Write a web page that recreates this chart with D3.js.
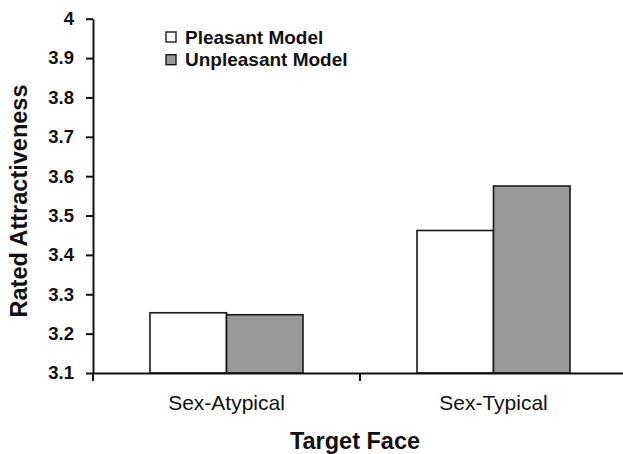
<!DOCTYPE html>
<html>
<head>
<meta charset="utf-8">
<script src="https://cdn.jsdelivr.net/npm/d3@7"></script>
<style>
  body { margin: 0; background: #fff; }
  svg { display: block; font-family: "Liberation Sans", Arial, sans-serif; }
  .axis path, .axis line { stroke: #111; stroke-width: 2; }
  .axis text { fill: #111; }
</style>
</head>
<body>
<div id="chart"></div>
<script>
const categories = ["Sex-Atypical", "Sex-Typical"];
const seriesNames = ["Pleasant Model", "Unpleasant Model"];
const pleasant = [3.253, 3.462];
const unpleasant = [3.248, 3.575];
const yTicks = [3.1, 3.2, 3.3, 3.4, 3.5, 3.6, 3.7, 3.8, 3.9, 4];
const seriesColors = ["#ffffff", "#999999"];

const width = 623, height = 454;
const margin = {top: 18.7, left: 93, bottom: 81, right: -4};

const svg = d3.select("#chart").append("svg")
    .attr("width", width)
    .attr("height", height);

const xScale = d3.scaleBand()
    .domain(categories)
    .range([margin.left, width - margin.right]);

const innerScale = d3.scaleBand()
    .domain(seriesNames)
    .range([57, xScale.bandwidth() - 57]);

const yScale = d3.scaleLinear()
    .domain([3.1, 4])
    .range([height - margin.bottom, margin.top]);

// bars
const rows = categories.map((c, i) => ({cat: c, values: [pleasant[i], unpleasant[i]]}));

const groups = svg.append("g").selectAll("g")
    .data(rows)
    .join("g")
    .attr("transform", d => "translate(" + xScale(d.cat) + ",0)");

groups.selectAll("rect")
    .data(d => d.values.map((v, j) => ({name: seriesNames[j], value: v, j: j})))
    .join("rect")
    .attr("x", d => innerScale(d.name))
    .attr("y", d => yScale(d.value))
    .attr("width", innerScale.bandwidth())
    .attr("height", d => yScale(3.1) - yScale(d.value))
    .attr("fill", d => seriesColors[d.j])
    .attr("stroke", "#1a1a1a")
    .attr("stroke-width", 1.6);

// y axis
const yAxis = svg.append("g")
    .attr("class", "axis")
    .attr("transform", "translate(" + margin.left + ",0)")
    .call(d3.axisLeft(yScale)
        .tickValues(yTicks)
        .tickFormat(d3.format("~g"))
        .tickSize(7)
        .tickSizeOuter(0)
        .tickPadding(12));
yAxis.selectAll("text")
    .attr("font-size", 18.5)
    .attr("font-weight", "bold");

// x axis: labels at band centres, ticks at band edges
const xAxis = svg.append("g")
    .attr("class", "axis")
    .attr("transform", "translate(0," + yScale(3.1) + ")")
    .call(d3.axisBottom(xScale).tickSize(0).tickSizeOuter(0).tickPadding(22));
xAxis.selectAll("text")
    .attr("font-size", 21)
    .attr("font-weight", "normal");

const edges = [xScale(categories[0])].concat(categories.map(c => xScale(c) + xScale.bandwidth()));
xAxis.selectAll(".edge")
    .data(edges)
    .join("line")
    .attr("class", "edge")
    .attr("x1", d => d).attr("x2", d => d)
    .attr("y1", 0).attr("y2", 8)
    .attr("stroke", "#111")
    .attr("stroke-width", 2);

// titles
svg.append("text")
    .attr("x", 355)
    .attr("y", 449)
    .attr("text-anchor", "middle")
    .attr("font-size", 23.5)
    .attr("font-weight", "bold")
    .attr("fill", "#111")
    .text("Target Face");

svg.append("text")
    .attr("transform", "translate(27,201) rotate(-90)")
    .attr("text-anchor", "middle")
    .attr("font-size", 23.5)
    .attr("font-weight", "bold")
    .attr("fill", "#111")
    .text("Rated Attractiveness");

// legend
const legend = svg.append("g")
    .attr("transform", "translate(166,32)");

const items = legend.selectAll("g")
    .data(seriesNames)
    .join("g")
    .attr("transform", (d, i) => "translate(0," + i * 22.7 + ")");

items.append("rect")
    .attr("width", 10)
    .attr("height", 10)
    .attr("fill", (d, i) => seriesColors[i])
    .attr("stroke", "#1a1a1a")
    .attr("stroke-width", 1.4);

items.append("text")
    .attr("x", 19)
    .attr("y", 11.5)
    .attr("font-size", 19)
    .attr("font-weight", "bold")
    .attr("fill", "#111")
    .text(d => d);
</script>
</body>
</html>
